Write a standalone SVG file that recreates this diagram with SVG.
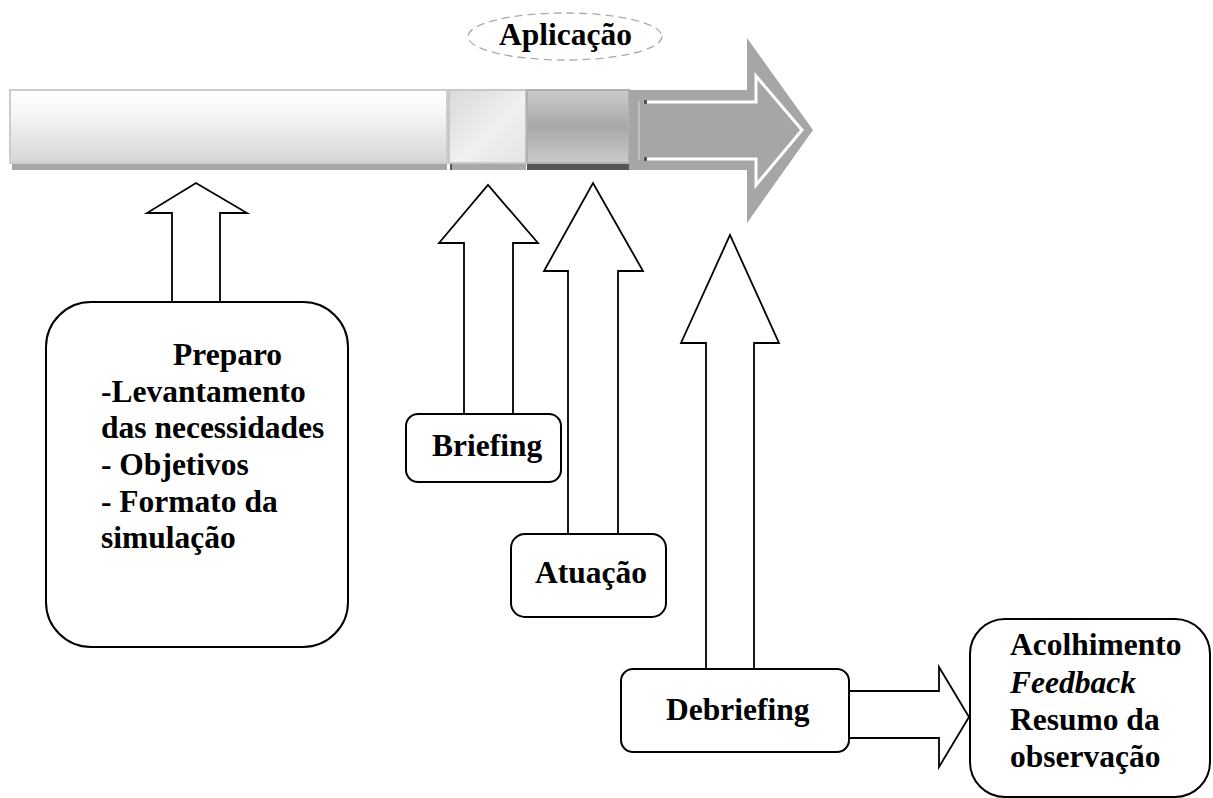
<svg xmlns="http://www.w3.org/2000/svg" width="1213" height="798" viewBox="0 0 1213 798">
  <defs>
    <linearGradient id="g1" x1="0" y1="0" x2="0" y2="1">
      <stop offset="0" stop-color="#ffffff"/>
      <stop offset="0.3" stop-color="#f7f7f7"/>
      <stop offset="1" stop-color="#d5d5d5"/>
    </linearGradient>
    <linearGradient id="g2" x1="0" y1="0" x2="1" y2="1">
      <stop offset="0" stop-color="#d9d9d9"/>
      <stop offset="0.55" stop-color="#f0f0f0"/>
      <stop offset="1" stop-color="#e4e4e4"/>
    </linearGradient>
    <linearGradient id="g3" x1="0" y1="0" x2="0" y2="1">
      <stop offset="0" stop-color="#cbcbcb"/>
      <stop offset="0.5" stop-color="#a8a8a8"/>
      <stop offset="1" stop-color="#cbcbcb"/>
    </linearGradient>
    <style>
      .lbl { font-family: "Liberation Serif", "Times New Roman", serif; font-weight: bold; font-size: 31.5px; fill: #000; }
      .it { font-style: italic; }
      .box { fill: #fff; stroke: #000; stroke-width: 2; }
      .blk { fill: #fff; stroke: #000; stroke-width: 1.8; stroke-linejoin: miter; }
    </style>
  </defs>
  <rect width="1213" height="798" fill="#fff"/>

  <g id="timeline">
    <rect x="12" y="163" width="435" height="7" fill="#a6a6a6"/>
    <rect x="10" y="90" width="437" height="73" fill="url(#g1)" stroke="#cccccc" stroke-width="2"/>
    <rect x="450" y="163" width="76" height="7" fill="#a8a8a8"/>
    <rect x="450" y="163" width="2" height="7" fill="#555"/>
    <rect x="449" y="90" width="77" height="73" fill="url(#g2)" stroke="#c8c8c8" stroke-width="2"/>
    <rect x="527" y="163" width="102" height="7" fill="#555"/>
    <rect x="527" y="90" width="102" height="73" fill="url(#g3)" stroke="#b0b0b0" stroke-width="2"/>
    <polygon points="629,90 747,90 747,38 813,130 747,223 747,170 629,170" fill="#a6a6a6"/>
    <line x1="639" y1="101" x2="639" y2="160" stroke="#c8c8c8" stroke-width="1.5"/>
    <polyline points="646,102 756,102 756,76 802,130 756,185 756,159 646,159" fill="none" stroke="#ffffff" stroke-width="3"/>
    <rect x="644" y="100" width="3" height="4" fill="#555"/>
    <rect x="644" y="157" width="3" height="4" fill="#555"/>
  </g>

  <g id="aplicacao">
    <ellipse cx="565" cy="36.5" rx="97" ry="23.5" fill="#fff" stroke="#aaaaaa" stroke-width="1.3" stroke-dasharray="8,5"/>
    <text class="lbl" x="499" y="45">Aplicação</text>
  </g>

  <g id="connectors">
    <polygon class="blk" points="172,302 172,213 147,213 196,183 247,213 220,213 220,302"/>
    <polygon class="blk" points="464,414 464,243 439,243 488,185 538,243 513,243 513,414"/>
    <polygon class="blk" points="568,534 568,271 544,271 593,183 643,271 618,271 618,534"/>
    <polygon class="blk" points="706,669 706,343 681,343 730,235 779,343 754,343 754,669"/>
    <polygon class="blk" points="849,691 939,691 939,667 969,717 939,767 939,738 849,738"/>
  </g>

  <g id="preparo">
    <rect class="box" x="46" y="302" width="302" height="345" rx="45" ry="45"/>
    <text class="lbl" x="173" y="365">Preparo</text>
    <text class="lbl" x="101" y="402">-Levantamento</text>
    <text class="lbl" x="101" y="438">das necessidades</text>
    <text class="lbl" x="101" y="475">- Objetivos</text>
    <text class="lbl" x="101" y="512">- Formato da</text>
    <text class="lbl" x="101" y="548">simulação</text>
  </g>

  <g id="briefing">
    <rect class="box" x="406" y="414" width="155" height="68" rx="12" ry="12"/>
    <text class="lbl" x="432" y="456">Briefing</text>
  </g>

  <g id="atuacao">
    <rect class="box" x="511" y="534" width="155" height="83" rx="14" ry="14"/>
    <text class="lbl" x="535" y="583">Atuação</text>
  </g>

  <g id="debriefing">
    <rect class="box" x="621" y="669" width="228" height="83" rx="12" ry="12"/>
    <text class="lbl" x="666" y="720">Debriefing</text>
  </g>

  <g id="acolhimento">
    <rect class="box" x="970" y="619" width="240" height="178" rx="35" ry="35"/>
    <text class="lbl" x="1010" y="655">Acolhimento</text>
    <text class="lbl it" x="1010" y="693">Feedback</text>
    <text class="lbl" x="1010" y="730">Resumo da</text>
    <text class="lbl" x="1010" y="767">observação</text>
  </g>
</svg>
